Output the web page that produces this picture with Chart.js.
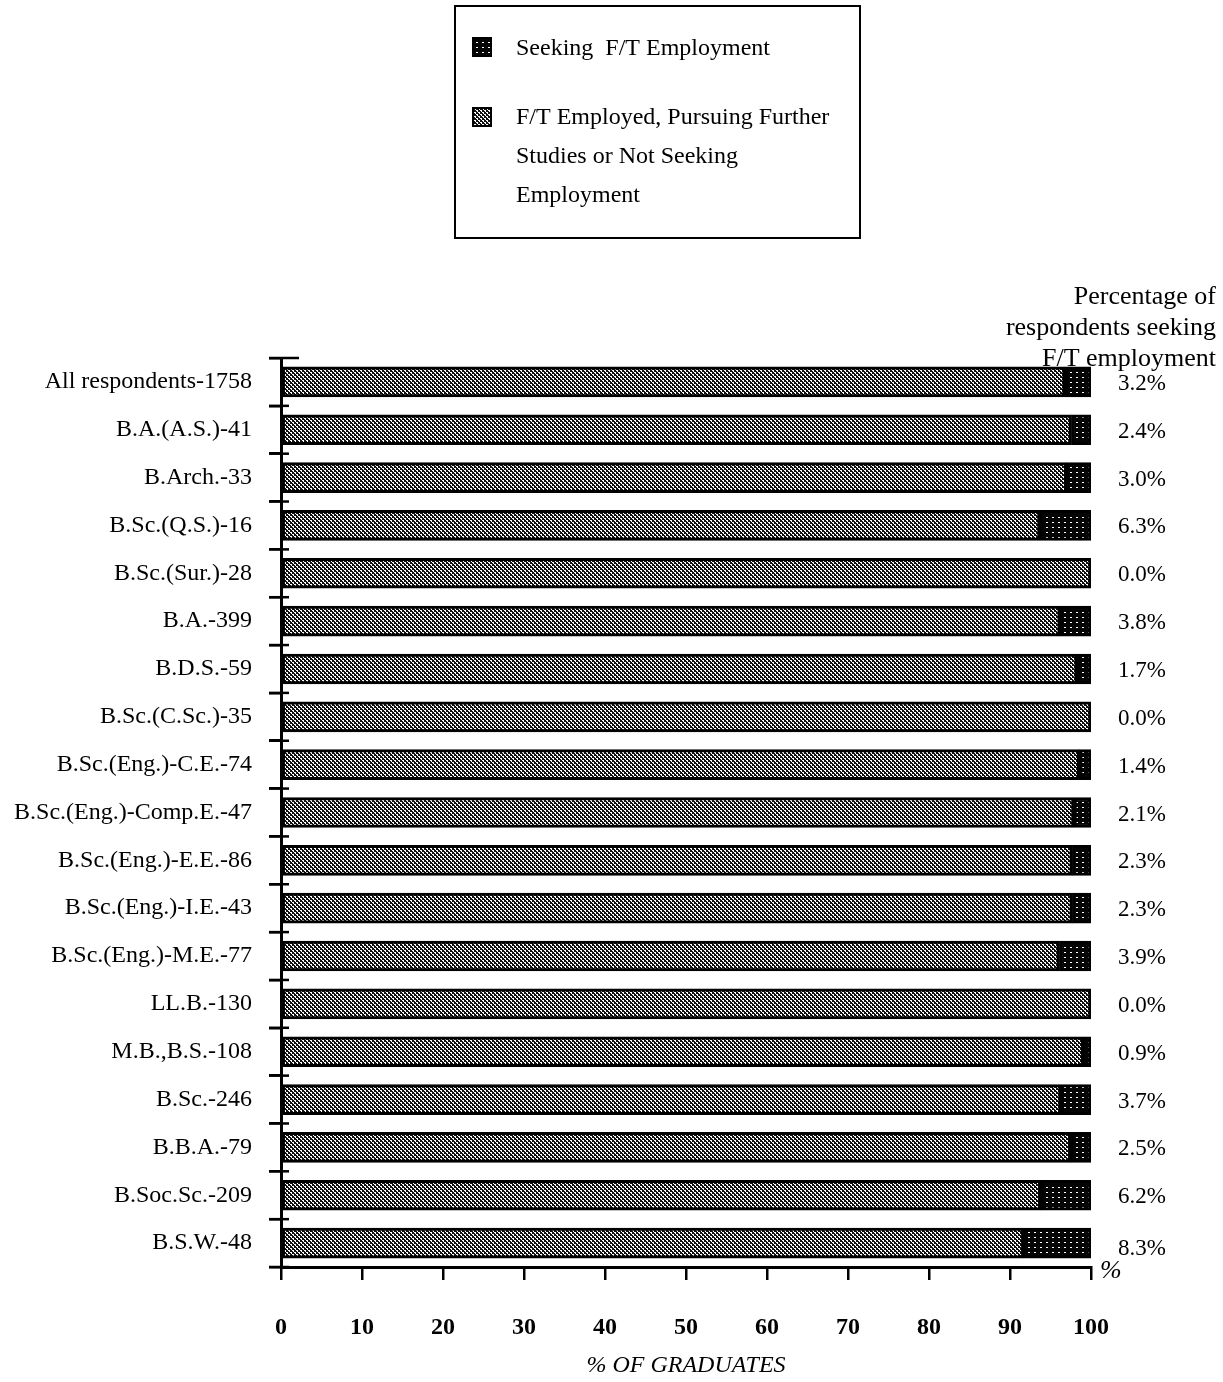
<!DOCTYPE html>
<html>
<head>
<meta charset="utf-8">
<script src="https://cdn.jsdelivr.net/npm/chart.js@4.4.1/dist/chart.umd.min.js"></script>
<style>
  body { margin: 0; background: #fff; }
  #wrap { width: 1223px; height: 1382px; }
</style>
</head>
<body>
<div id="wrap"><canvas id="chart" width="1223" height="1382"></canvas></div>
<script>
const categories = [
  'All respondents-1758', 'B.A.(A.S.)-41', 'B.Arch.-33', 'B.Sc.(Q.S.)-16',
  'B.Sc.(Sur.)-28', 'B.A.-399', 'B.D.S.-59', 'B.Sc.(C.Sc.)-35',
  'B.Sc.(Eng.)-C.E.-74', 'B.Sc.(Eng.)-Comp.E.-47', 'B.Sc.(Eng.)-E.E.-86',
  'B.Sc.(Eng.)-I.E.-43', 'B.Sc.(Eng.)-M.E.-77', 'LL.B.-130', 'M.B.,B.S.-108',
  'B.Sc.-246', 'B.B.A.-79', 'B.Soc.Sc.-209', 'B.S.W.-48'
];
// % seeking F/T employment (also printed on the right)
const seekingPct = [3.2, 2.4, 3.0, 6.3, 0.0, 3.8, 1.7, 0.0, 1.4, 2.1, 2.3, 2.3, 3.9, 0.0, 0.9, 3.7, 2.5, 6.2, 8.3];
// % employed / further studies / not seeking
const otherPct = [96.8, 97.6, 97.0, 93.7, 100.0, 96.2, 98.3, 100.0, 98.6, 97.9, 97.7, 97.7, 96.1, 100.0, 99.1, 96.3, 97.5, 93.8, 91.7];
const xTicks = [0, 10, 20, 30, 40, 50, 60, 70, 80, 90, 100];

const SERIF = "'Liberation Serif', 'DejaVu Serif', serif";

// fill patterns like the old printout
function makePattern(w, h, bg, fg, dots) {
  const c = document.createElement('canvas');
  c.width = w; c.height = h;
  const g = c.getContext('2d');
  g.fillStyle = bg;
  g.fillRect(0, 0, w, h);
  g.fillStyle = fg;
  dots.forEach(d => g.fillRect(d[0], d[1], d[2], d[3]));
  return g.createPattern(c, 'repeat');
}
const ctx = document.getElementById('chart').getContext('2d');
const grayFill = makePattern(4, 4, '#ffffff', '#111111',
  [[0, 0, 2, 2], [2, 2, 2, 2], [2, 1, 1, 1], [0, 3, 1, 1]]);
const darkFill = makePattern(6, 5, '#050505', '#ffffff', [[2, 2, 2, 1]]);

const extras = {
  id: 'extras',
  afterDraw(chart) {
    const { ctx, chartArea, scales } = chart;
    const y = scales.y;
    ctx.save();

    // y tick marks cross the axis
    ctx.strokeStyle = '#000';
    ctx.lineWidth = 2.5;
    const step = y.getPixelForValue(1) - y.getPixelForValue(0);
    for (let i = 0; i <= categories.length; i++) {
      const py = y.getPixelForValue(i) - step / 2;
      ctx.beginPath();
      ctx.moveTo(chartArea.left - 12, py);
      ctx.lineTo(chartArea.left + (i === 0 ? 18 : 8), py);
      ctx.stroke();
    }

    // right side percentages
    ctx.fillStyle = '#000';
    ctx.font = '23px ' + SERIF;
    ctx.textAlign = 'left';
    ctx.textBaseline = 'middle';
    const meta = chart.getDatasetMeta(1);
    seekingPct.forEach((v, i) => {
      const bar = meta.data[i];
      const dy = i === seekingPct.length - 1 ? 6 : 2;
      ctx.fillText(v.toFixed(1) + '%', chartArea.right + 27, bar.y + dy);
    });

    // "%" at end of axis
    ctx.font = 'italic 26px ' + SERIF;
    ctx.fillText('%', chartArea.right + 9, chartArea.bottom + 4);

    // heading over the right column
    ctx.font = '26px ' + SERIF;
    ctx.textAlign = 'right';
    ctx.fillText('Percentage of', 1216, 297);
    ctx.fillText('respondents seeking', 1216, 328);
    ctx.fillText('F/T employment', 1216, 359);

    // legend box
    ctx.lineWidth = 2;
    ctx.strokeRect(455, 6, 405, 232);
    ctx.fillStyle = darkFill;
    ctx.fillRect(473, 38, 18, 18);
    ctx.strokeRect(473, 38, 18, 18);
    ctx.fillStyle = grayFill;
    ctx.fillRect(473, 108, 18, 18);
    ctx.strokeRect(473, 108, 18, 18);
    ctx.fillStyle = '#000';
    ctx.textAlign = 'left';
    ctx.font = '24px ' + SERIF;
    ctx.fillText('Seeking  F/T Employment', 516, 49);
    ctx.fillText('F/T Employed, Pursuing Further', 516, 118);
    ctx.fillText('Studies or Not Seeking', 516, 157);
    ctx.fillText('Employment', 516, 196);

    ctx.restore();
  }
};

new Chart(ctx, {
  type: 'bar',
  data: {
    labels: categories,
    datasets: [
      {
        label: 'F/T Employed, Pursuing Further Studies or Not Seeking Employment',
        data: otherPct,
        backgroundColor: grayFill,
        borderColor: '#000',
        borderWidth: 3,
        borderSkipped: false,
        barThickness: 30
      },
      {
        label: 'Seeking F/T Employment',
        data: seekingPct,
        backgroundColor: darkFill,
        borderColor: '#000',
        borderWidth: 3,
        borderSkipped: false,
        barThickness: 30
      }
    ]
  },
  options: {
    indexAxis: 'y',
    responsive: false,
    animation: false,
    devicePixelRatio: 1,
    layout: { padding: { top: 358, right: 132, left: 0, bottom: 0 } },
    plugins: {
      legend: { display: false },
      tooltip: { enabled: false }
    },
    scales: {
      x: {
        stacked: true,
        min: 0,
        max: 100,
        afterBuildTicks: (s) => { s.ticks = xTicks.map(v => ({ value: v })); },
        afterFit: (s) => { s.height = 115; },
        ticks: {
          color: '#000',
          font: { family: SERIF, size: 24, weight: 'bold' },
          padding: 33
        },
        grid: {
          drawOnChartArea: false,
          drawTicks: true,
          tickLength: 13,
          lineWidth: 2.5,
          color: '#000'
        },
        border: { display: true, width: 3, color: '#000' },
        title: {
          display: true,
          text: '% OF GRADUATES',
          color: '#000',
          font: { family: SERIF, size: 24, style: 'italic' },
          padding: { top: 0, bottom: 2 }
        }
      },
      y: {
        stacked: true,
        afterFit: (s) => { s.width = 281; },
        ticks: {
          color: '#000',
          font: { family: SERIF, size: 24 },
          padding: 17,
          autoSkip: false
        },
        grid: {
          display: true,
          offset: true,
          drawOnChartArea: false,
          drawTicks: true,
          tickLength: 12,
          lineWidth: 2.5,
          color: '#000'
        },
        border: { display: true, width: 3, color: '#000' }
      }
    }
  },
  plugins: [extras]
});
</script>
</body>
</html>
